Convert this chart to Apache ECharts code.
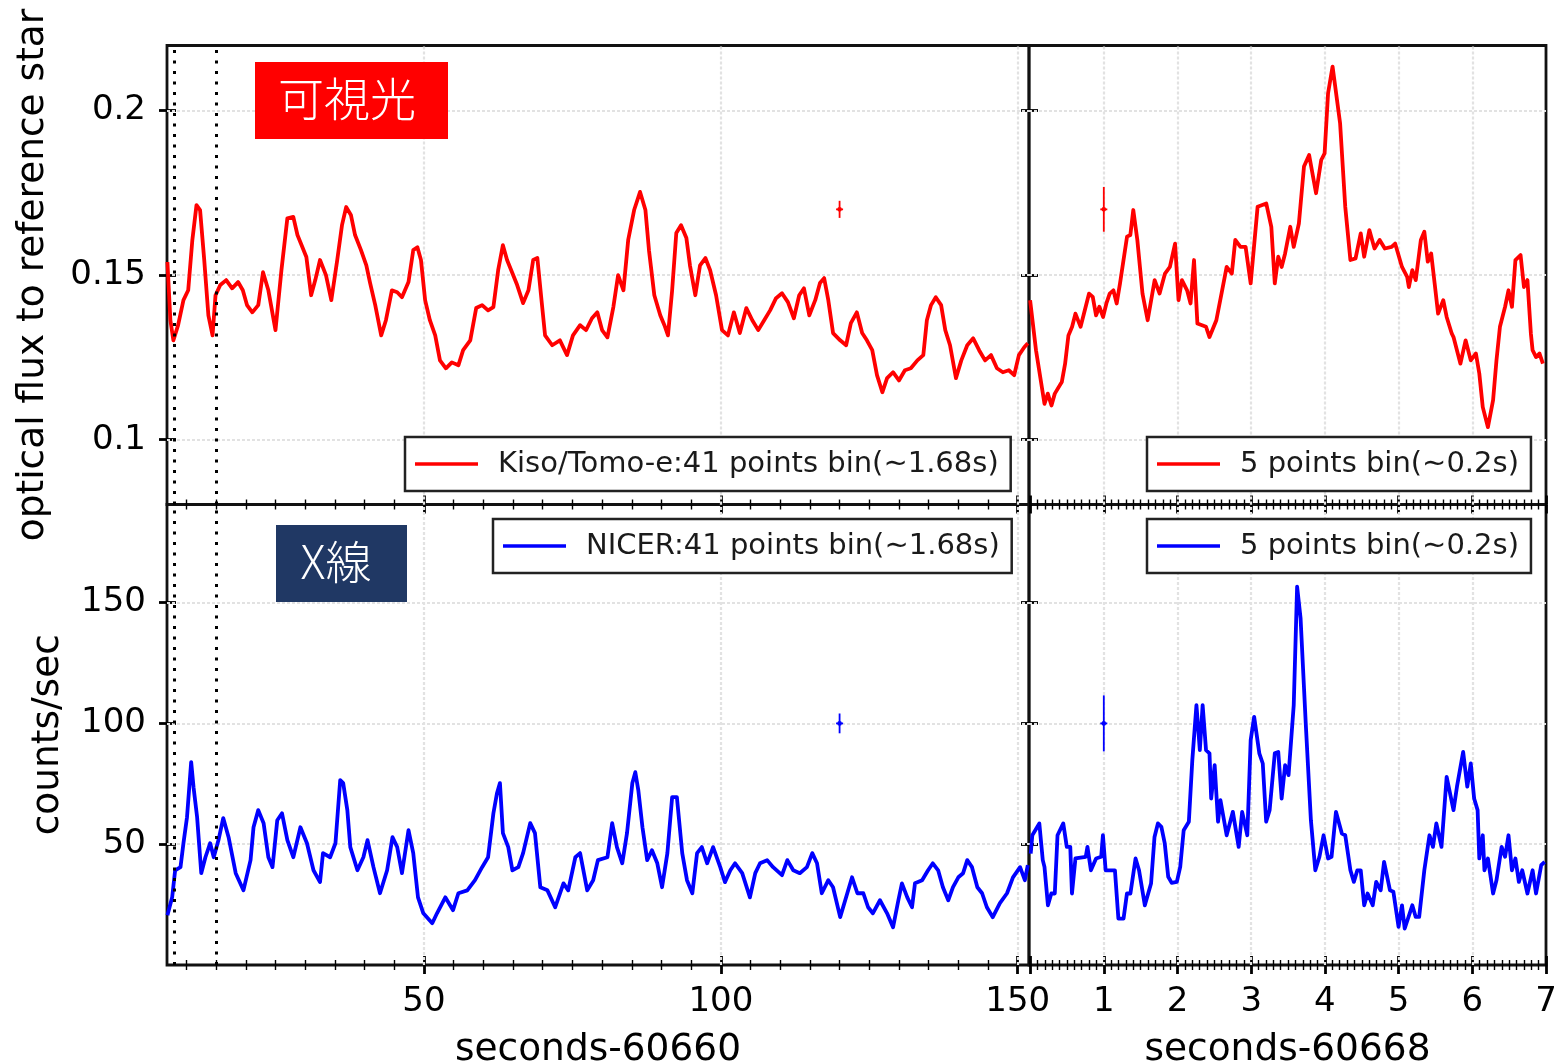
<!DOCTYPE html>
<html>
<head>
<meta charset="utf-8">
<title>Optical / X-ray light curves</title>
<script src="https://cdn.jsdelivr.net/npm/echarts@6/dist/echarts.min.js"></script>
<style>
  html, body { margin: 0; padding: 0; background: #fff; }
  #chart { width: 1559px; height: 1063px; }
</style>
</head>
<body>
<div id="chart"></div>
<script>
// ---- Kiso/Tomo-e optical flux, 41-point running bin (seconds - 60660) ----
const optSlowT = [6.8,7.3,7.8,8.6,9.5,10.3,11.0,11.7,12.3,13.0,
  13.7,14.4,14.9,15.7,16.7,17.7,18.7,19.5,20.2,21.1,
  22.1,22.9,23.8,25.0,26.0,27.0,28.0,28.7,29.4,30.2,
  31.0,31.7,32.5,33.5,34.4,35.4,36.2,36.9,37.7,38.4,
  39.4,40.3,40.9,41.8,42.8,43.6,44.6,45.5,46.3,47.4,
  48.2,48.9,49.5,50.2,51.0,51.9,52.7,53.7,54.7,55.8,
  56.6,57.8,58.8,59.8,60.8,61.7,62.5,63.3,64.0,64.7,
  65.7,66.7,67.6,68.4,69.1,69.8,70.4,71.6,72.9,74.1,
  75.1,76.3,77.3,78.3,79.2,80.0,80.9,81.9,82.7,83.6,
  84.4,85.4,86.4,87.3,87.9,88.8,89.8,90.5,91.1,91.8,
  92.5,93.3,94.2,94.8,95.7,96.5,97.4,98.2,99.2,100.2,
  101.2,102.2,103.2,104.3,105.3,106.3,107.3,108.3,109.3,110.3,
  111.3,112.3,113.2,114.0,114.9,115.9,116.7,117.4,118.1,118.9,
  120.1,121.1,121.9,122.9,123.8,124.6,125.5,126.3,127.2,128.0,
  129.0,130.0,131.0,132.0,133.1,134.1,134.7,135.4,136.2,137.1,
  137.8,138.6,139.6,140.5,141.5,142.5,143.5,144.5,145.5,146.5,
  147.5,148.5,149.4,150.2,151.1,151.7];
const optSlowV = [0.154,0.1363,0.1302,0.1348,0.1424,0.1454,0.1607,0.1713,0.1698,0.1546,
  0.1378,0.1317,0.1439,0.1470,0.1485,0.1460,0.1479,0.1454,0.1409,0.1387,
  0.1409,0.1509,0.1454,0.1333,0.1515,0.1673,0.1677,0.1622,0.1591,0.1555,
  0.1439,0.1485,0.1546,0.1500,0.1424,0.1546,0.1652,0.1707,0.1683,0.1622,
  0.1576,0.1530,0.1479,0.1409,0.1317,0.1363,0.1454,0.1448,0.1433,0.1479,
  0.1576,0.1585,0.1546,0.1424,0.1363,0.1317,0.1241,0.1217,0.1235,0.1226,
  0.1272,0.1302,0.1400,0.1409,0.1393,0.1403,0.1515,0.1591,0.1546,0.1515,
  0.1470,0.1415,0.1454,0.1546,0.1552,0.1424,0.1317,0.1287,0.1302,0.1257,
  0.1317,0.1348,0.1333,0.1369,0.1387,0.1333,0.1311,0.1403,0.1500,0.1454,
  0.1607,0.1698,0.1753,0.1698,0.1576,0.1439,0.1378,0.1348,0.1317,0.1454,
  0.1628,0.1652,0.1613,0.1530,0.1439,0.1530,0.1552,0.1515,0.1439,0.1333,
  0.1317,0.1387,0.1324,0.1400,0.1363,0.1333,0.1363,0.1393,0.1430,0.1445,
  0.1418,0.1369,0.1439,0.1460,0.1378,0.1424,0.1476,0.1491,0.1424,0.1324,
  0.1302,0.1287,0.1354,0.1387,0.1324,0.1302,0.1272,0.1196,0.1144,0.1187,
  0.1205,0.1180,0.1211,0.1217,0.1241,0.1257,0.1363,0.1409,0.1433,0.1409,
  0.1333,0.1287,0.1187,0.1241,0.1287,0.1308,0.1272,0.1241,0.1257,0.1217,
  0.1205,0.1211,0.1196,0.1257,0.1281,0.1293];

// ---- NICER count rate, 41-point running bin (seconds - 60660) ----
const xraySlowT = [6.8,7.6,8.1,9.0,9.5,10.1,10.8,11.2,11.8,12.5,
  13.2,14.0,14.6,15.4,16.2,17.1,18.3,19.6,20.8,21.3,
  22.1,23.0,23.8,24.5,25.3,26.1,27.0,28.0,29.2,30.3,
  31.4,32.5,33.0,34.2,35.1,35.9,36.4,37.1,37.6,38.8,
  39.8,40.5,41.5,42.6,43.8,44.7,45.5,46.3,47.4,48.2,
  49.0,49.9,51.4,52.2,53.6,54.9,55.8,57.3,58.6,59.8,
  60.8,61.7,62.3,62.8,63.3,64.2,64.9,65.9,66.7,67.9,
  68.7,69.6,70.8,72.1,73.5,74.3,75.5,76.3,77.5,78.5,
  79.3,80.9,81.7,82.5,83.4,84.2,85.1,85.6,86.1,86.8,
  87.6,88.4,89.3,90.1,91.0,91.8,92.6,93.5,94.3,95.2,
  96.0,96.8,97.7,98.7,99.9,100.7,101.6,102.4,103.6,104.9,
  105.8,106.6,107.8,108.8,110.3,111.2,112.2,113.3,114.5,115.4,
  116.2,117.0,118.1,118.9,120.1,121.3,122.1,123.0,124.0,124.8,
  125.6,126.8,128.0,129.0,129.9,130.5,131.4,132.2,132.7,133.9,
  134.9,135.7,136.6,137.4,138.3,139.1,140.0,140.8,141.5,142.3,
  143.2,144.0,144.8,145.8,147.0,148.2,149.2,150.4,151.2,151.7];
const xraySlowV = [20.6,28.0,39.2,40.5,50.4,61.2,84.0,73.6,61.2,38.0,
  44.6,50.4,44.6,51.7,60.8,52.9,38.0,30.9,43.4,57.0,
  64.1,58.7,44.6,40.5,59.9,62.8,51.7,44.6,57.0,50.4,
  39.2,34.3,46.3,44.6,50.4,76.5,75.3,64.1,48.8,39.2,
  44.6,51.7,40.5,29.7,39.2,52.9,48.8,38.0,55.8,46.3,
  28.0,21.4,17.3,21.4,28.0,22.7,29.7,30.9,35.1,40.5,
  44.6,62.8,71.1,75.3,54.6,48.8,39.2,40.5,46.3,58.7,
  54.6,32.2,30.9,23.9,33.8,30.9,44.6,46.3,30.9,35.1,
  43.4,44.6,58.7,48.8,42.1,54.6,75.3,79.8,72.4,57.0,
  43.4,47.5,42.1,32.2,46.3,69.5,69.5,46.3,35.1,29.7,
  46.3,48.8,42.1,48.8,40.5,34.3,39.2,42.1,38.0,28.0,
  38.0,42.1,43.4,40.5,37.2,43.4,39.2,38.0,40.5,46.3,
  42.1,29.7,35.1,32.2,19.8,29.7,36.3,29.7,29.7,23.9,
  21.4,26.8,21.4,15.6,26.8,33.8,28.0,23.9,33.8,35.1,
  39.2,42.1,39.2,32.2,26.8,32.2,36.3,38.0,43.4,40.5,
  32.2,29.7,23.9,19.8,25.6,29.7,36.3,40.5,35.1,41.3];

// ---- Optical flux, 5-point bin (seconds - 60668) ----
const optFastT = [0.0,0.08,0.195,0.24,0.29,0.335,0.43,0.475,0.52,0.57,
  0.615,0.685,0.73,0.80,0.85,0.895,0.94,0.99,1.035,1.08,
  1.13,1.175,1.22,1.315,1.36,1.40,1.455,1.525,1.595,1.69,
  1.757,1.83,1.897,1.967,2.014,2.06,2.13,2.177,2.224,2.27,
  2.387,2.434,2.527,2.597,2.667,2.737,2.784,2.854,2.924,2.993,
  3.087,3.204,3.273,3.32,3.367,3.413,3.46,3.53,3.577,3.647,
  3.716,3.786,3.88,3.95,3.996,4.043,4.104,4.206,4.276,4.346,
  4.416,4.486,4.533,4.603,4.673,4.743,4.813,4.906,4.953,5.046,
  5.116,5.139,5.186,5.233,5.302,5.349,5.396,5.442,5.489,5.536,
  5.606,5.652,5.722,5.745,5.839,5.909,5.979,6.049,6.095,6.142,
  6.212,6.282,6.328,6.375,6.445,6.491,6.538,6.585,6.655,6.701,
  6.748,6.795,6.818,6.865,6.911,6.958];
const optFastV = [0.1424,0.1272,0.1109,0.1140,0.1104,0.1140,0.1175,0.1231,0.1317,0.1343,
  0.1383,0.1343,0.1383,0.1444,0.1434,0.1378,0.1404,0.1373,0.1414,0.1444,
  0.1454,0.1414,0.1475,0.1617,0.1622,0.1698,0.1607,0.1444,0.1363,0.1485,
  0.1444,0.1505,0.1525,0.1596,0.1424,0.1485,0.1454,0.1414,0.1546,0.1353,
  0.1343,0.1312,0.1363,0.1444,0.1525,0.1505,0.1607,0.1586,0.1586,0.1475,
  0.1708,0.1718,0.1647,0.1475,0.1556,0.1525,0.1566,0.1647,0.1586,0.1657,
  0.1830,0.1865,0.1749,0.1850,0.1870,0.2053,0.2134,0.1962,0.1708,0.1546,
  0.1551,0.1627,0.1556,0.1637,0.1581,0.1607,0.1581,0.1586,0.1596,0.1525,
  0.1495,0.1464,0.1515,0.1485,0.1607,0.1632,0.1541,0.1566,0.1475,0.1383,
  0.1424,0.1373,0.1322,0.1312,0.1231,0.1302,0.1241,0.1262,0.1201,0.1099,
  0.1038,0.1120,0.1241,0.1343,0.1404,0.1454,0.1404,0.1546,0.1561,0.1464,
  0.1485,0.1322,0.1272,0.1251,0.1262,0.1231];

// ---- X-ray count rate, 5-point bin (seconds - 60668) ----
const xrayFastT = [0.008,0.03,0.125,0.172,0.195,0.242,0.288,0.335,0.372,0.45,
  0.498,0.545,0.568,0.615,0.755,0.778,0.825,0.895,0.965,0.988,
  1.025,1.151,1.198,1.268,1.314,1.361,1.431,1.478,1.557,1.641,
  1.688,1.734,1.781,1.827,1.874,1.921,1.991,2.037,2.084,2.154,
  2.201,2.257,2.303,2.341,2.387,2.434,2.457,2.504,2.55,2.583,
  2.667,2.751,2.83,2.877,2.947,2.993,3.04,3.11,3.157,3.203,
  3.25,3.32,3.367,3.413,3.46,3.507,3.577,3.623,3.67,3.74,
  3.81,3.87,3.926,3.982,4.043,4.09,4.15,4.23,4.276,4.346,
  4.393,4.44,4.486,4.533,4.579,4.649,4.696,4.757,4.803,4.883,
  4.929,4.999,5.046,5.083,5.186,5.232,5.279,5.349,5.419,5.466,
  5.512,5.582,5.652,5.745,5.792,5.876,5.932,5.979,6.025,6.072,
  6.095,6.142,6.165,6.212,6.282,6.328,6.398,6.445,6.491,6.538,
  6.585,6.632,6.678,6.748,6.818,6.865,6.935,6.982];
const xrayFastV = [46.1,53.7,58.6,43.4,40.6,24.7,29.6,29.6,53.7,58.6,
  48.9,48.9,29.6,44.1,44.8,48.9,39.2,44.1,44.8,53.7,
  39.2,39.2,19.2,19.2,29.6,29.6,44.1,39.2,24.7,33.7,
  53.0,58.6,57.2,50.3,36.5,34.0,34.4,40.6,55.8,59.3,
  84.8,107.6,88.9,107.6,88.9,87.6,68.9,82.7,59.3,68.2,
  53.7,63.4,48.9,63.4,53.7,93.1,102.7,87.6,83.4,59.3,
  64.1,87.6,88.2,68.9,82.7,78.6,107.6,156.6,143.5,100.0,
  59.9,39.2,44.8,53.7,44.1,44.8,63.4,54.4,53.7,39.2,
  34.4,39.2,39.2,24.7,29.6,24.7,34.4,30.9,42.7,30.9,
  30.3,15.8,24.7,15.1,24.7,19.9,19.9,39.2,53.7,48.9,
  58.6,48.9,77.9,64.1,73.8,88.2,73.8,83.4,68.9,64.1,
  44.1,53.7,39.2,44.1,29.6,35.1,48.9,44.8,53.7,39.2,
  44.1,34.4,39.2,29.6,39.2,29.6,41.3,42.7];

// typical 1-sigma error bars: [time, value, error]
const errOptSlow  = [120, 0.17, 0.0026];
const errOptFast  = [1, 0.17, 0.0068];
const errXraySlow = [120, 100, 4.1];
const errXrayFast = [1, 100, 11.6];

// the 7-second window expanded in the right-hand panels
const windowEdges = [8, 15];

// tick values / labels
const slowTicks = [50, 100, 150];
const fastTicks = [1, 2, 3, 4, 5, 6, 7];
const optTicks  = [0.1, 0.15, 0.2];
const rateTicks = [50, 100, 150];

const legendLabels = [
  'Kiso/Tomo-e:41 points bin(\u223c1.68s)',
  '5 points bin(\u223c0.2s)',
  'NICER:41 points bin(\u223c1.68s)',
  '5 points bin(\u223c0.2s)'
];

// axis extents
const slowRange = [6.73, 151.9];
const fastRange = [-0.015, 7.0];
const optRange  = [0.0803, 0.2198];
const rateRange = [0, 190.6];

// minor tick positions
const slowMinor = [];
for (let v = 10; v < 150; v += 5) if (v % 50 !== 0) slowMinor.push(v);
const fastMinor = [];
for (let i = 1; i < 70; i++) if (i % 10 !== 0) fastMinor.push(i / 10);
const fastMajor = [0].concat(fastTicks);

const FONT = 'DejaVu Sans';
const RED = '#ff0000';
const BLUE = '#0000ff';

const zip = (t, v) => t.map((x, i) => [x, v[i]]);

const panels = [
  { grid: { left: 167, top: 45.5, width: 862, height: 459 },
    x: slowRange, y: optRange, xMajor: slowTicks, xMinor: slowMinor, xGrid: slowTicks,
    yMajor: optTicks, yLabels: true, yName: 'optical flux to reference star', yNameGap: 115 },
  { grid: { left: 1029, top: 45.5, width: 517, height: 459 },
    x: fastRange, y: optRange, xMajor: fastMajor, xMinor: fastMinor, xGrid: [1, 2, 3, 4, 5, 6],
    yMajor: optTicks },
  { grid: { left: 167, top: 504.5, width: 862, height: 460.5 },
    x: slowRange, y: rateRange, xMajor: slowTicks, xMinor: slowMinor, xGrid: slowTicks,
    xLabels: slowTicks, xName: 'seconds-60660',
    yMajor: rateTicks, yLabels: true, yName: 'counts/sec', yNameGap: 100 },
  { grid: { left: 1029, top: 504.5, width: 517, height: 460.5 },
    x: fastRange, y: rateRange, xMajor: fastMajor, xMinor: fastMinor, xGrid: [1, 2, 3, 4, 5, 6],
    xLabels: fastTicks, xName: 'seconds-60668',
    yMajor: rateTicks }
];

const majorTickLine = { color: '#000', width: 2.8 };
const minorTickLine = { color: '#000', width: 1.4 };
const labelStyle = { fontFamily: FONT, fontSize: 34, color: '#000' };
const nameStyle = { fontFamily: FONT, fontSize: 37.5, color: '#000' };

const grids = [], xAxes = [], yAxes = [];

panels.forEach((p, gi) => {
  grids.push(Object.assign({ show: true, borderColor: '#111', borderWidth: 2.8,
    backgroundColor: 'transparent', containLabel: false, outerBoundsMode: 'none' }, p.grid));

  const xb = { type: 'value', gridIndex: gi, min: p.x[0], max: p.x[1], position: 'bottom',
    axisLine: { show: false, onZero: false }, splitLine: { show: false },
    axisLabel: { show: false }, nameMoveOverlap: false };
  // major ticks crossing the frame (in + out), labels and title on the first one
  xAxes.push(Object.assign({}, xb, {
    axisTick: { show: true, inside: true, length: 9, customValues: p.xMajor, lineStyle: majorTickLine },
    axisLabel: p.xLabels ? Object.assign({ show: true, customValues: p.xLabels, margin: 20 }, labelStyle) : { show: false },
    name: p.xName || '', nameLocation: 'middle', nameGap: 66, nameTextStyle: nameStyle
  }));
  xAxes.push(Object.assign({}, xb, {
    axisTick: { show: true, inside: false, length: 9, customValues: p.xMajor, lineStyle: majorTickLine } }));
  xAxes.push(Object.assign({}, xb, {
    axisTick: { show: true, inside: true, length: 5, customValues: p.xMinor, lineStyle: minorTickLine } }));
  xAxes.push(Object.assign({}, xb, {
    axisTick: { show: true, inside: false, length: 5, customValues: p.xMinor, lineStyle: minorTickLine } }));

  const yb = { type: 'value', gridIndex: gi, min: p.y[0], max: p.y[1], position: 'left',
    axisLine: { show: false, onZero: false }, splitLine: { show: false },
    axisLabel: { show: false }, nameMoveOverlap: false };
  yAxes.push(Object.assign({}, yb, {
    axisTick: { show: true, inside: true, length: 9, customValues: p.yMajor, lineStyle: majorTickLine },
    axisLabel: p.yLabels ? Object.assign({ show: true, customValues: p.yMajor, margin: 21 }, labelStyle) : { show: false },
    name: p.yName || '', nameLocation: 'middle', nameGap: p.yNameGap || 0, nameTextStyle: nameStyle
  }));
  yAxes.push(Object.assign({}, yb, {
    axisTick: { show: true, inside: false, length: 8, customValues: p.yMajor, lineStyle: majorTickLine } }));
});

// light dotted grid at the major ticks
function guideSeries(gi, p) {
  const lines = p.xGrid.map(v => ({ xAxis: v })).concat(p.yMajor.map(v => ({ yAxis: v })));
  return { type: 'line', xAxisIndex: 4 * gi, yAxisIndex: 2 * gi, data: [], silent: true, z: 1,
    markLine: { silent: true, z: 1, symbol: 'none', animation: false, label: { show: false },
      emphasis: { disabled: true },
      lineStyle: { color: '#e2e2e2', width: 2.2, type: [3, 2] }, data: lines } };
}

// vertical dotted markers of the expanded window
function windowSeries(gi) {
  return { type: 'line', xAxisIndex: 4 * gi, yAxisIndex: 2 * gi, data: [], silent: true, z: 5,
    markLine: { silent: true, z: 5, symbol: 'none', animation: false, label: { show: false },
      emphasis: { disabled: true },
      lineStyle: { color: '#000', width: 3, type: [3, 7.5] },
      data: windowEdges.map(v => ({ xAxis: v })) } };
}

function curveSeries(gi, name, t, v, color) {
  return { type: 'line', name, xAxisIndex: 4 * gi, yAxisIndex: 2 * gi, data: zip(t, v),
    symbol: 'none', showSymbol: false, clip: true, z: 3,
    lineStyle: { color, width: 3.8, join: 'round' }, itemStyle: { color }, emphasis: { disabled: true } };
}

function errorBarSeries(gi, bar, color) {
  return { type: 'custom', xAxisIndex: 4 * gi, yAxisIndex: 2 * gi, data: [bar], silent: true, z: 4,
    renderItem: (params, api) => {
      const x = api.value(0), y = api.value(1), e = api.value(2);
      const hi = api.coord([x, y + e]);
      const lo = api.coord([x, y - e]);
      const c = api.coord([x, y]);
      return { type: 'group', children: [
        { type: 'line', shape: { x1: hi[0], y1: hi[1], x2: lo[0], y2: lo[1] }, style: { stroke: color, lineWidth: 1.8 } },
        { type: 'line', shape: { x1: c[0] - 3.5, y1: c[1], x2: c[0] + 3.5, y2: c[1] }, style: { stroke: color, lineWidth: 1.8 } },
        { type: 'circle', shape: { cx: c[0], cy: c[1], r: 2.3 }, style: { fill: color } }
      ] };
    } };
}

const seriesNames = ['Kiso/Tomo-e slow', 'Kiso/Tomo-e fast', 'NICER slow', 'NICER fast'];

const series = [
  guideSeries(0, panels[0]), guideSeries(1, panels[1]), guideSeries(2, panels[2]), guideSeries(3, panels[3]),
  curveSeries(0, seriesNames[0], optSlowT, optSlowV, RED),
  curveSeries(1, seriesNames[1], optFastT, optFastV, RED),
  curveSeries(2, seriesNames[2], xraySlowT, xraySlowV, BLUE),
  curveSeries(3, seriesNames[3], xrayFastT, xrayFastV, BLUE),
  errorBarSeries(0, errOptSlow, RED),
  errorBarSeries(1, errOptFast, RED),
  errorBarSeries(2, errXraySlow, BLUE),
  errorBarSeries(3, errXrayFast, BLUE),
  windowSeries(0), windowSeries(2)
];

const legendPos = [[405, 437], [1147, 437], [493, 519], [1147, 519]];
const legends = seriesNames.map((n, i) => ({
  data: [n], left: legendPos[i][0], top: legendPos[i][1], orient: 'horizontal',
  selectedMode: false, icon: 'rect', itemWidth: 63, itemHeight: 3.5,
  padding: [12, 12, 12, 10], backgroundColor: '#fff', borderColor: '#222', borderWidth: 2.5, borderRadius: 0,
  formatter: () => legendLabels[i],
  textStyle: { fontFamily: FONT, fontSize: 29, color: '#1a1a1a', lineHeight: 30, padding: [0, 0, 0, 15] }
}));

const jpFont = '"Noto Sans CJK JP", "Noto Sans CJK SC", sans-serif';
const graphic = [
  { type: 'rect', left: 255, top: 62, shape: { width: 193, height: 77 }, style: { fill: '#ff0000' }, z: 10 },
  { type: 'text', x: 347, y: 99, z: 11,
    style: { text: '可視光', fill: '#fff', fontSize: 46, fontFamily: jpFont, fontWeight: 300,
      align: 'center', verticalAlign: 'middle' } },
  { type: 'rect', left: 276, top: 525, shape: { width: 131, height: 77 }, style: { fill: '#203864' }, z: 10 },
  { type: 'text', x: 336, y: 562, z: 11,
    style: { text: 'X線', fill: '#fff', fontSize: 46, fontFamily: jpFont, fontWeight: 300,
      align: 'center', verticalAlign: 'middle' } }
];

const chart = echarts.init(document.getElementById('chart'), null, { renderer: 'canvas' });
chart.setOption({
  animation: false,
  backgroundColor: '#fff',
  textStyle: { fontFamily: FONT },
  grid: grids,
  xAxis: xAxes,
  yAxis: yAxes,
  legend: legends,
  graphic: graphic,
  series: series
});
</script>
</body>
</html>
